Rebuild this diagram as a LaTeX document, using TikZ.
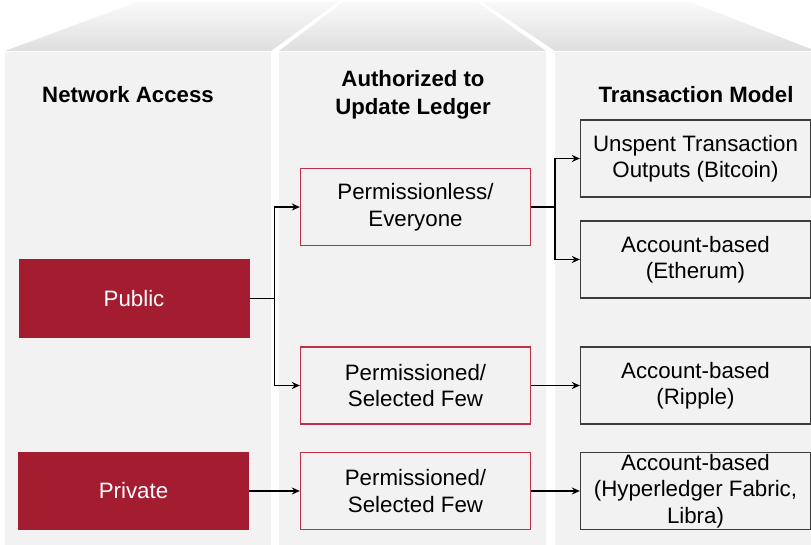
\documentclass[tikz,border=0pt]{standalone}
\usepackage{fontspec}
\setmainfont{Liberation Sans}
\usetikzlibrary{arrows.meta}
\definecolor{crim}{HTML}{A31C30}
\definecolor{crimline}{HTML}{BE3046}
\definecolor{panel}{HTML}{F2F2F2}
\definecolor{boxline}{HTML}{3C3C3C}
\tikzset{
  txt/.style={font=\fontsize{22.3}{26.5}\selectfont, align=center, inner sep=0pt},
  hdr/.style={font=\bfseries\fontsize{22.2}{28}\selectfont, align=center, inner sep=0pt},
  redbox/.style={txt, fill=crim, text=white, minimum width=231pt, minimum height=78pt},
  midbox/.style={txt, draw=crimline, line width=1.3pt, minimum width=230pt, minimum height=77pt},
  rbox/.style={txt, draw=boxline, line width=1.3pt, minimum width=230pt, minimum height=77pt},
  conn/.style={line width=1.4pt, black},
  arr/.style={conn, -{Stealth[length=8pt,width=7pt]}},
  roof/.style={top color=black!2, bottom color=black!13, draw=none}
}
\begin{document}
\begin{tikzpicture}[x=1pt,y=-1pt]
\useasboundingbox (0,0) rectangle (811,545);
\fill[white] (0,0) rectangle (811,545);
% roofs
\shade[roof] (5,51) -- (271,51) -- (338,2) -- (137,2) -- cycle;
\shade[roof] (279,51) -- (546,51) -- (477,2) -- (343,2) -- cycle;
\shade[roof] (555,51) -- (811,51) -- (811,49) -- (690,2) -- (482,2) -- cycle;
% panels
\fill[panel] (5,52) rectangle (271,545);
\fill[panel] (279,52) rectangle (546,545);
\fill[panel] (555,52) rectangle (811,545);
% headers
\node[hdr] (h1) at (128,95) {Network Access};
\node[hdr] (h2) at (413,95) {Authorized to\\Update Ledger};
\node[hdr] (h3) at (696,95) {Transaction Model};
% left column
\node[redbox] (pub) at (134,298.5) {Public};
\node[redbox] (priv) at (133.5,491) {Private};
% middle column
\node[midbox] (pless) at (415.5,207) {Permissionless/\\Everyone};
\node[midbox] (pd1) at (415.5,385.5) {Permissioned/\\Selected Few};
\node[midbox] (pd2) at (415.5,491) {Permissioned/\\Selected Few};
% right column
\node[rbox] (utxo) at (695.5,158.5) {Unspent Transaction\\Outputs (Bitcoin)};
\node[rbox] (eth) at (695.5,259.5) {Account-based\\(Etherum)};
\node[rbox] (rip) at (695.5,385.5) {Account-based\\(Ripple)};
\node[rbox] (hyp) at (695.5,491) {Account-based\\(Hyperledger Fabric,\\Libra)};
% connectors
\draw[conn] (pub.east) -- ++(25,0) coordinate (b1);
\draw[arr] (b1) |- (pless.west);
\draw[arr] (b1) |- (pd1.west);
\draw[conn] (pless.east) -- ++(24,0) coordinate (b2);
\draw[arr] (b2) |- (utxo.west);
\draw[arr] (b2) |- (eth.west);
\draw[arr] (pd1.east) -- (rip.west);
\draw[arr] (priv.east) -- (pd2.west);
\draw[arr] (pd2.east) -- (hyp.west);
\end{tikzpicture}
\end{document}
